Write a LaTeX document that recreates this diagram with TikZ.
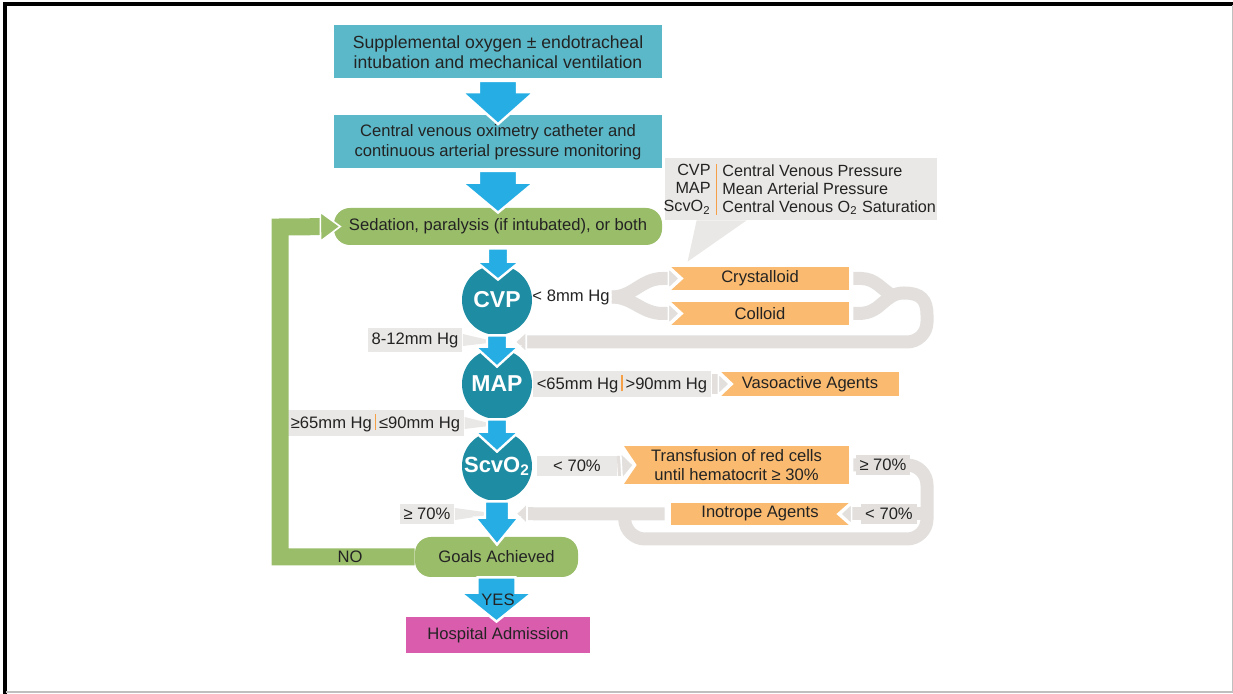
\documentclass[tikz,border=0pt]{standalone}
\usepackage{fontspec}
\setmainfont{Liberation Sans}
\usepackage{xcolor}
\usetikzlibrary{arrows.meta,positioning,calc}

\definecolor{tealbox}{RGB}{91,184,200}
\definecolor{bluearr}{RGB}{38,174,228}
\definecolor{circfill}{RGB}{30,141,163}
\definecolor{greenbox}{RGB}{154,189,106}
\definecolor{orangebox}{RGB}{250,187,112}
\definecolor{pinkbox}{RGB}{217,92,173}
\definecolor{bandgray}{RGB}{226,223,221}
\definecolor{lblgray}{RGB}{234,232,230}
\definecolor{sepline}{RGB}{245,160,70}
\definecolor{txt}{RGB}{35,35,35}

\tikzset{
  base/.style={font=\fontsize{8.3}{10}\selectfont, text=txt, inner sep=1pt, align=center},
  tealstep/.style={base, fill=tealbox, minimum width=164pt, minimum height=26.5pt},
  greenstep/.style={base, fill=greenbox, rounded corners=8pt},
  orangestep/.style={base, fill=orangebox, minimum width=89pt},
  circstep/.style={circle, fill=circfill, minimum size=35pt, inner sep=0pt, text=white,
    font=\bfseries\fontsize{11.5}{13}\selectfont},
  lbl/.style={base, fill=lblgray, inner sep=2pt, minimum height=10pt},
  legtext/.style={base, inner sep=0pt, font=\fontsize{8.1}{9}\selectfont},
  band/.style={draw=bandgray, line width=6.5pt},
  graytip/.tip={Triangle[width=12pt,length=6.5pt,color=white,fill=bandgray,line width=0.8pt]},
  bigtip/.tip={Triangle[width=15pt,length=7pt,color=white,fill=bandgray,line width=0.8pt]},
}

% block arrow pointing down: from, tip, shaft half width, head half width, head length
\newcommand\bluedown[5]{%
  \fill[bluearr, draw=white, line width=1.2pt]
    let \p1=(#1), \p2=(#2) in
    ({\x1-#3},\y1) -- ({\x1-#3},{\y2+#5}) -- ({\x1-#4},{\y2+#5}) -- (\x1,\y2)
    -- ({\x1+#4},{\y2+#5}) -- ({\x1+#3},{\y2+#5}) -- ({\x1+#3},\y1) -- cycle;}

\begin{document}
\begin{tikzpicture}[x=0.5pt,y=-0.5pt]
\useasboundingbox (0,0) rectangle (1233,694);
% frame
\draw[black, line width=2pt] (5,694) -- (5,4) -- (1233,4);
\draw[black!25, line width=1pt] (6,692.5) -- (1232.5,692.5) -- (1232.5,5);

% legend callout
\node[fill=lblgray, minimum width=136pt, minimum height=31pt, inner sep=0pt] (legend) at (801,189) {};
\node[legtext, align=right, anchor=north east] (abbr) at (711,164) {CVP\\MAP\\ScvO\textsubscript{2}};
\node[legtext, align=left, anchor=north west] (desc) at (722,164)
  {Central Venous Pressure\\Mean Arterial Pressure\\Central Venous O\textsubscript{2} Saturation};
\draw[sepline, line width=0.8pt] ($(abbr.north east)!0.5!(desc.north west)$) -- ($(abbr.south east)!0.5!(desc.south west)$);

% main column
\node[tealstep, font=\fontsize{8.8}{10}\selectfont] (oxy) at (498,52) {Supplemental oxygen ± endotracheal\\intubation and mechanical ventilation};
\node[tealstep] (cath) at (498,142) {Central venous oximetry catheter and\\continuous arterial pressure monitoring};
\node[greenstep, minimum width=164pt, minimum height=18.5pt] (sed) at (498,226.5) {Sedation, paralysis (if intubated), or both};
\node[circstep] (cvp) at (497,300) {CVP};
\node[circstep] (map) at (497,384) {MAP};
\node[circstep, font=\bfseries\fontsize{11}{13}\selectfont] (scv) at (497,466) {ScvO\textsubscript{2}};
\node[greenstep, minimum width=81.5pt, minimum height=20pt] (goals) at (496.5,557) {Goals Achieved};
\node[base, fill=pinkbox, minimum width=92pt, minimum height=18pt] (hosp) at (498,635) {Hospital Admission};

% therapies
\node[orangestep, minimum height=11.5pt] (cryst) at (760,278.5) {Crystalloid};
\node[orangestep, minimum height=11.5pt] (coll) at (760,313.5) {Colloid};
\node[orangestep, minimum height=12pt] (vaso) at (810,384) {Vasoactive Agents};
\node[orangestep, minimum width=112.5pt, minimum height=19pt, font=\fontsize{8.3}{9.5}\selectfont] (trans) at (736.5,465)
  {Transfusion of red cells\\until hematocrit ≥ 30\%};
\node[orangestep, minimum height=11pt] (inot) at (760,514) {Inotrope Agents};

% callout pointer
\coordinate (ptr) at ([shift={(8.5pt,2.5pt)}]cryst.north west);
\fill[lblgray] ([xshift=16pt]legend.south west) -- ([xshift=41pt]legend.south west) -- (ptr) -- cycle;

% thresholds
\node[base] (cvplbl) at (571,297) {< 8mm Hg};
\node[lbl, minimum width=87.5pt] (maplbl) at (622,384) {<65mm Hg\,\textcolor{sepline}{\rule[-1pt]{0.8pt}{8pt}}\,>90mm Hg};
\node[lbl, minimum width=40pt] (scvlow) at (577,466) {< 70\%};
\node[lbl, minimum width=45pt] (lbl812) at (415,340) {8-12mm Hg};
\node[lbl, minimum width=84.5pt] (mapok) at (375.5,423) {≥65mm Hg\,\textcolor{sepline}{\rule[-1pt]{0.8pt}{8pt}}\,≤90mm Hg};
\node[lbl, minimum width=26pt] (scvok) at (427,514) {≥ 70\%};

\coordinate (cvpmap) at ($(cvp.south)!0.5!(map.north)$);
\coordinate (mapscv) at ($(map.south)!0.5!(scv.north)$);
\coordinate (scvgoal) at ($(scv.south)!0.35!(goals.north)$);
\coordinate (loopR) at (927,514);

% wedges from left labels
\fill[lblgray] ([yshift=3pt]lbl812.east) -- (cvpmap) -- ([yshift=-3pt]lbl812.east) -- cycle;
\fill[lblgray] ([yshift=3pt]mapok.east) -- (mapscv) -- ([yshift=-3pt]mapok.east) -- cycle;
\fill[lblgray] ([yshift=3pt]scvok.east) -- (scvgoal) -- ([yshift=-3pt]scvok.east) -- cycle;

% notches
\foreach \b in {cryst,coll,vaso,trans}
  \fill[white] (\b.north west) -- ([xshift=6.5pt]\b.west) -- (\b.south west) -- cycle;
\fill[white] (inot.north east) -- ([xshift=-6.5pt]inot.east) -- (inot.south east) -- cycle;

% gray loops
\draw[band,-{graytip}] (cvplbl.east) to[out=0,in=180] ([xshift=-4pt]cryst.west) -- ([xshift=5pt]cryst.west);
\draw[band,-{graytip}] (cvplbl.east) to[out=0,in=180] ([xshift=-4pt]coll.west) -- ([xshift=5pt]coll.west);
\draw[band] ([xshift=2pt]cryst.east) -- ++(4pt,0) .. controls (876,279) and (881,289) .. (893,296);
\draw[band,-{graytip}] ([xshift=2pt]coll.east) -- ++(3pt,0) .. controls (882,313) and (884,293) .. (904,293)
  .. controls (921,293) and (927,300) .. (927,315) [rounded corners=10pt] -- (927,342) -- ([xshift=8.5pt]cvpmap);
\draw[band,line width=10pt,-{graytip}] (maplbl.east) -- ([xshift=5pt]vaso.west);
\draw[band,line width=10pt,-{bigtip}] (scvlow.east) -- ([xshift=5.5pt]trans.west);
\draw[band,rounded corners=10pt] ([xshift=2pt]trans.east) -- (927,465) -- (927,539) -- (625,539) -- ([xshift=-23pt]inot.west);
\draw[band,-{graytip}] (loopR) -- ([xshift=-5pt]inot.east);
\draw[band,-{graytip}] ([xshift=-3pt]inot.west) -- ([xshift=9pt]scvgoal);
\node[lbl, fill=bandgray] (trhi) at (883,465) {≥ 70\%};
\node[lbl, fill=bandgray] (inlow) at (889,514) {< 70\%};

% blue arrows
\bluedown{[yshift=-1pt]oxy.south}{[yshift=-4.5pt]cath.north}{9.5pt}{18pt}{16pt}
\bluedown{[yshift=-1pt]cath.south}{[yshift=-2.5pt]sed.north}{9.5pt}{18pt}{15pt}
\bluedown{[yshift=-1.5pt]sed.south}{[yshift=-7.5pt]cvp.north}{5pt}{11pt}{9pt}
\bluedown{cvp.south}{[yshift=-9pt]map.north}{5pt}{11pt}{10pt}
\bluedown{map.south}{[yshift=-10.5pt]scv.north}{5pt}{11pt}{10pt}
\bluedown{scv.south}{[yshift=-4pt]goals.north}{6pt}{11pt}{13.5pt}
\bluedown{goals.south}{[yshift=-2.5pt]hosp.north}{9.5pt}{18pt}{14.5pt}

% NO loop back to sedation
\coordinate (nocol) at (280,227);
\draw[greenbox, line width=8.5pt, -{Triangle[width=16pt,length=11pt,color=white,fill=greenbox,line width=0.8pt]}]
  (goals.west) -| (nocol) -- ([xshift=4pt]sed.west);
\node[base] (notxt) at (350,557) {NO};
\node[base] (yestxt) at (498,600) {YES};
\end{tikzpicture}
\end{document}
